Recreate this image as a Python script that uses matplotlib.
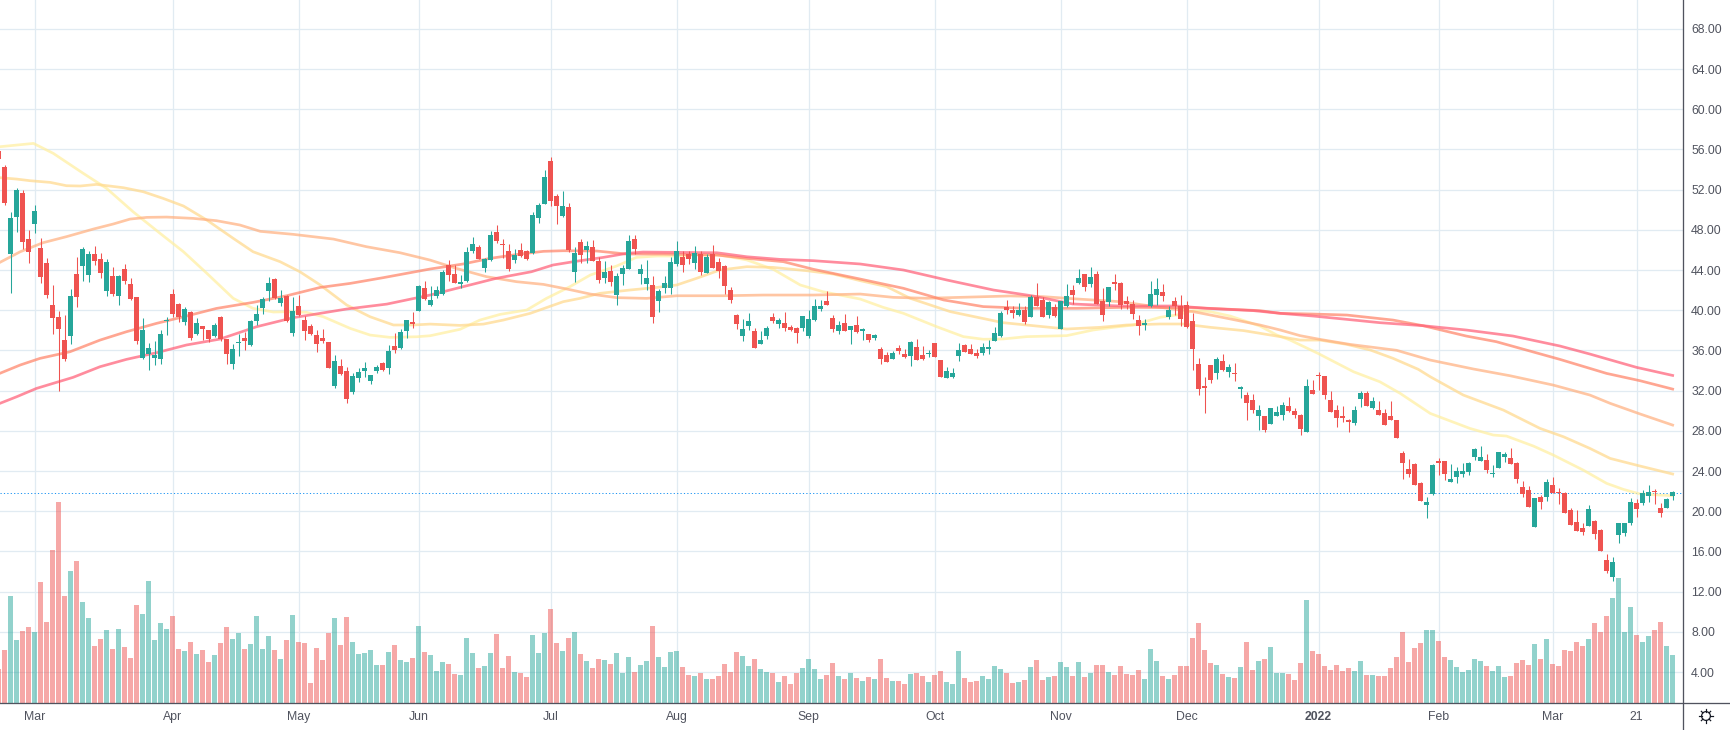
import matplotlib
matplotlib.use("Agg")
import matplotlib.pyplot as plt
from matplotlib.lines import Line2D
from matplotlib.patches import Circle
import numpy as np

plt.rcParams['font.family'] = ['Liberation Sans', 'DejaVu Sans']

# ---- candles (bar numbers run from -1; the first is cut by the left edge) ----
highs = [
56.11,54.45,49.74,52.16,51.93,47.98,50.47,47.18,45.19,42.51,
39.92,39.52,42.11,45.29,46.29,45.89,46.39,45.69,45.09,44.30,
43.50,44.60,43.20,41.31,39.22,36.73,36.93,38.03,39.32,42.11,
40.71,40.32,39.92,39.22,38.43,38.03,38.72,39.42,37.13,36.63,
37.63,37.83,39.02,40.52,41.31,43.30,43.20,42.01,41.51,41.31,
41.51,39.42,38.62,38.03,38.13,36.83,35.54,35.14,34.35,33.75,
34.25,34.84,33.55,34.55,34.84,36.53,37.73,38.13,39.02,39.82,
42.51,42.90,42.41,42.41,44.00,45.00,44.50,43.50,46.29,47.28,
46.49,45.19,47.88,48.48,47.08,46.59,46.09,46.69,45.99,49.77,
50.67,53.95,55.24,51.56,51.86,50.67,46.29,47.08,46.88,46.98,
45.29,44.89,44.50,43.70,44.50,47.48,47.48,44.60,45.00,43.40,
42.11,43.40,45.29,46.88,45.89,45.89,46.39,45.89,45.59,46.49,
45.19,44.50,42.31,39.62,39.12,39.72,38.23,37.93,38.43,39.72,
39.22,39.82,38.53,38.33,39.42,40.02,41.11,41.01,41.91,39.52,
38.92,39.62,38.43,39.42,38.23,37.64,37.64,36.34,35.84,35.94,
36.54,36.14,36.94,37.14,36.44,36.04,36.74,35.05,34.35,34.25,
36.74,36.64,36.64,36.14,36.74,37.04,38.33,39.93,41.02,40.42,
40.72,40.42,41.52,42.71,41.32,40.92,40.62,40.92,42.61,42.51,
44.10,43.61,44.30,43.91,42.21,42.31,43.61,42.81,41.42,41.02,
39.53,39.13,42.91,43.21,42.61,40.42,41.32,41.52,40.92,39.73,
35.25,33.36,34.55,35.35,35.65,34.65,34.75,32.46,31.86,31.67,
30.57,29.48,30.27,30.47,30.87,31.37,30.26,29.67,33.15,33.05,
33.85,33.45,31.96,30.56,30.46,29.17,30.46,31.96,31.96,31.36,
30.96,30.16,30.96,29.07,25.98,25.19,24.79,22.90,21.41,24.69,
25.29,24.99,24.69,24.39,24.79,24.89,26.28,26.48,25.69,24.59,
25.89,25.89,26.28,24.89,23.00,22.50,21.31,21.61,23.20,23.40,
22.30,21.90,20.31,20.11,18.82,20.61,19.12,18.22,15.74,15.44,
18.82,18.82,21.31,21.21,22.10,22.60,22.20,20.81,21.31,22.00]

lows = [
54.78,50.47,41.74,47.78,46.09,44.70,47.68,42.70,41.21,37.63,
31.96,34.94,36.63,40.32,42.90,42.80,44.50,43.20,41.41,41.41,
40.52,42.61,41.01,36.63,35.14,34.05,34.55,34.64,37.53,39.32,
38.82,38.53,37.03,37.53,37.03,36.83,37.33,36.93,34.64,34.15,
35.44,36.04,36.44,38.53,39.62,40.91,41.11,40.42,38.82,37.43,
39.42,37.03,37.53,35.84,36.73,34.25,32.26,33.55,30.76,31.66,
32.85,33.35,32.65,33.75,33.95,33.65,35.74,36.14,37.23,38.23,
39.92,41.01,40.42,41.21,41.51,42.90,42.70,42.21,42.80,45.69,
45.09,43.80,44.89,46.69,45.19,43.90,44.70,45.29,45.00,45.59,
48.68,50.57,50.37,48.58,49.27,45.79,42.80,44.70,44.70,44.89,
42.70,42.70,42.41,40.52,42.51,44.10,45.59,42.61,42.01,38.72,
39.82,41.71,41.61,44.40,43.80,44.60,44.10,43.50,43.70,44.20,
43.20,41.61,40.71,38.13,36.93,38.03,36.24,36.63,37.13,38.72,
38.23,37.93,37.93,36.73,37.93,37.23,38.92,39.92,40.52,37.83,
37.63,37.93,36.63,37.73,37.04,36.84,37.04,34.65,34.85,35.15,
35.65,35.25,34.45,35.05,35.05,35.35,35.35,33.36,33.26,33.26,
34.95,35.85,35.65,35.25,35.55,35.65,36.94,37.34,39.63,39.23,
39.43,38.63,39.33,40.42,39.33,39.23,39.33,38.13,40.32,40.62,
42.61,41.91,42.31,40.62,38.93,40.42,42.01,40.12,40.12,39.13,
37.54,38.03,40.32,40.52,40.92,39.13,39.53,38.43,38.23,34.05,
31.57,29.77,32.76,33.16,33.95,33.36,32.96,31.27,29.08,29.77,
28.08,27.88,28.68,29.48,29.08,29.87,29.27,27.58,27.88,31.66,
32.05,31.16,29.87,28.37,28.87,27.88,28.57,30.36,30.46,30.16,
29.57,28.57,29.07,27.28,23.20,23.40,22.60,21.01,19.32,21.61,
23.60,23.10,22.90,22.80,23.40,23.60,25.09,24.99,23.80,23.40,
24.29,24.89,24.69,22.80,21.41,20.41,18.42,20.21,21.01,21.81,
20.71,19.81,18.62,18.02,17.63,18.52,17.23,16.03,13.84,13.05,
16.83,17.53,18.62,19.42,20.61,20.91,20.71,19.42,20.31,21.11]

opens = [
55.84,54.25,45.59,49.27,51.66,47.08,48.58,46.19,44.70,40.52,
39.32,37.03,37.43,43.60,44.40,43.50,45.59,45.09,41.91,43.40,
41.41,44.10,42.61,41.31,35.24,35.64,35.24,35.14,38.92,41.61,
40.61,38.82,39.82,37.63,38.43,38.03,37.43,39.32,37.13,34.64,
36.73,37.23,36.53,38.92,40.22,41.91,43.10,40.71,41.41,37.73,
40.42,39.02,38.43,37.53,37.23,36.83,32.46,34.45,33.95,31.86,
33.25,33.95,32.95,33.95,34.74,34.25,36.44,36.24,37.93,38.82,
39.92,42.21,40.52,41.41,41.61,44.50,43.60,42.61,42.90,45.89,
46.29,44.20,45.00,47.78,46.59,45.89,45.00,45.99,45.89,45.69,
49.17,50.57,54.85,51.36,49.37,50.27,43.80,46.78,45.99,46.29,
44.89,43.20,43.90,41.51,43.60,44.10,47.08,43.60,42.61,42.51,
40.91,42.21,42.21,44.60,45.29,45.59,44.70,45.59,43.70,45.59,
44.79,44.40,42.01,39.52,37.43,38.43,37.93,36.63,37.43,39.32,
38.62,38.72,38.33,38.23,38.23,37.43,39.02,40.12,40.91,39.22,
37.93,38.72,38.03,38.53,37.93,37.64,37.24,36.14,35.55,35.15,
36.24,35.65,35.45,36.34,35.55,35.65,36.74,35.05,33.26,33.36,
35.45,36.54,36.14,35.75,35.75,36.14,36.94,37.44,40.32,40.02,
39.53,40.02,39.33,41.32,41.02,39.53,40.32,38.13,40.42,42.01,
42.71,43.61,42.61,43.61,40.92,40.82,42.81,42.71,40.92,40.62,
39.03,38.53,40.42,41.52,41.82,39.33,40.92,40.42,40.52,38.93,
34.65,32.46,34.55,33.76,34.95,33.85,33.76,32.16,31.57,31.07,
29.48,29.48,28.68,29.48,29.58,30.47,29.96,29.57,27.88,32.05,
33.51,33.45,31.06,30.06,29.47,29.07,28.77,31.16,31.76,30.26,
30.06,29.77,29.47,29.07,25.79,24.19,24.69,22.80,20.61,21.71,
24.99,24.99,22.90,23.40,23.70,23.90,25.39,24.99,25.09,23.70,
24.29,25.39,25.29,24.79,22.40,22.10,18.42,21.41,21.41,22.60,
21.90,21.81,20.11,18.92,18.32,18.52,19.02,18.12,15.14,13.45,
17.63,17.83,18.82,20.81,20.81,21.51,22.00,20.31,20.31,21.51]

closes = [
55.04,50.67,49.17,51.96,46.78,45.79,49.87,43.30,41.51,39.22,
38.13,35.14,41.41,41.31,46.09,45.59,44.89,43.70,44.79,41.61,
43.40,42.90,41.11,36.93,38.03,36.24,35.54,37.63,39.02,39.62,
39.32,40.12,37.23,38.72,38.13,37.13,38.53,37.13,35.64,36.14,
36.83,36.93,38.92,39.62,41.11,42.70,41.21,41.21,38.92,39.92,
39.52,37.93,37.63,36.63,36.93,34.25,34.94,33.65,31.16,33.45,
33.85,34.25,33.55,34.35,34.05,35.94,36.04,37.83,39.02,38.62,
42.41,41.11,41.01,42.01,43.80,43.50,42.70,42.80,45.79,46.59,
45.09,45.09,47.48,46.88,46.49,44.10,45.49,45.39,45.09,49.47,
50.47,53.25,50.87,50.37,50.37,45.99,45.69,45.49,46.39,44.89,
43.00,43.80,42.80,43.40,44.20,46.88,46.09,44.10,43.20,39.32,
41.91,42.70,44.79,45.89,44.50,45.09,45.69,43.80,45.29,44.20,
43.90,42.41,41.01,38.62,38.13,38.92,36.24,37.03,38.23,38.92,
39.02,38.23,38.03,37.73,39.42,39.12,40.42,40.42,40.52,38.13,
38.53,37.93,38.43,37.83,38.13,37.04,37.54,35.15,34.85,35.75,
35.94,35.35,36.84,35.05,35.15,35.75,35.35,33.36,33.95,33.76,
36.04,35.85,35.65,35.45,36.34,36.34,37.74,39.73,40.02,39.73,
40.02,38.83,41.32,40.42,39.33,40.82,39.43,40.92,41.42,41.52,
43.21,42.31,43.31,40.62,39.53,42.31,42.61,40.52,40.62,39.63,
38.43,38.73,41.62,42.11,41.42,40.02,40.42,39.13,38.33,36.14,
32.16,32.26,33.06,35.15,34.05,34.35,33.66,32.36,30.77,30.07,
30.07,28.08,30.27,29.87,30.57,29.97,29.57,28.17,32.45,31.66,
33.45,31.56,29.87,29.27,29.27,28.87,30.06,31.76,30.46,30.96,
29.57,28.57,29.07,27.28,24.79,23.70,22.60,21.01,20.91,24.59,
24.79,23.70,23.20,23.99,23.99,24.79,26.18,25.39,24.09,23.80,
25.89,25.69,24.69,23.20,21.71,20.41,21.31,20.91,22.90,21.81,
21.81,19.81,18.62,18.02,17.92,20.21,17.73,16.03,14.04,14.94,
18.82,18.82,20.91,20.21,21.81,21.90,21.90,19.81,21.21,21.90]

volumes = [
100,157,319,187,214,226,211,361,241,457,
601,319,394,424,301,253,169,190,217,160,
220,166,133,292,265,364,187,238,220,259,
160,154,181,145,157,121,142,178,226,190,
208,160,175,259,160,199,157,130,187,262,
181,178,58,163,127,208,253,172,256,181,
145,148,157,112,112,151,172,127,121,133,
229,151,142,94,121,115,85,82,193,148,
103,109,148,205,103,139,91,88,76,202,
148,208,280,178,154,193,211,145,124,103,
130,127,115,148,88,136,91,112,124,229,
136,106,151,154,106,82,79,88,70,70,
79,115,91,151,139,109,130,100,91,88,
61,79,55,88,103,130,100,70,82,118,
79,70,88,73,64,76,70,130,73,64,
64,55,85,88,79,61,82,94,61,55,
154,73,61,64,79,70,109,100,88,58,
61,67,106,127,67,76,79,121,106,79,
121,76,88,112,112,91,82,109,85,82,
97,70,160,124,79,70,82,109,109,193,
238,157,118,112,85,76,73,106,181,97,
124,130,166,88,88,85,67,118,307,154,
145,109,97,112,94,103,94,124,82,82,
79,79,103,136,211,121,163,178,217,217,
184,136,127,106,91,97,130,124,109,94,
109,76,79,118,127,112,175,130,190,115,
109,157,154,181,169,190,238,211,259,313,
373,211,286,202,181,199,217,241,169,142]

last_price = 21.78

# ---- moving averages: (bar number, price) ----
ma1_bar = [-0.8,4.8,8.1,13.1,17,21.4,25.9,29.8,33.7,38.1,41.4,44.8,47,50.3,53.1,57.6,60.9,64.2,68.7,
           70.9,75.9,79.2,82.6,87,90.3,94.2,97.6,102,105.3,108.7,112,115.3,119.2,123.7,128.1,132.6,136.4,142.6,
           146.4,149.8,155.3,159.8,163.1,166.4,170.3,177,181.4,184.8,188.1,192.6,195.4,198.1,200.9,204.2,209.2,212,214.2,
           218.9,224.8,229.2,232.6,237.6,244.2,248.1,250.3,254.8,258.1,263.1,267,269.8,272.6,278]
ma1_val = [56.27,56.6,55.61,53.62,52.12,49.8,47.65,45.82,43.67,41.18,40.18,39.82,39.85,39.79,39.35,38.19,37.53,37.3,37.36,
           37.46,38.1,39.02,39.59,40.02,41.18,42.34,43.5,44.4,45.26,45.39,45.39,45.49,45.49,45,44.07,42.51,41.84,41.11,
           40.29,39.69,38.37,37.37,37.11,37.14,37.37,37.47,38.03,38.3,38.53,39.3,39.53,39.96,39.86,39.43,38.43,37.54,37.04,
           35.70,33.88,32.88,31.72,29.73,28.24,27.58,27.48,26.48,25.59,24.09,22.77,22.17,21.71,21.54]

ma2_bar = [-0.8,2,4.2,7.6,10.3,12.6,15.3,19.8,23.1,26.4,29.8,33.7,38.1,41.4,45.9,49.2,52.6,57,60.9,64.8,68.1,
           70.9,75.9,79.8,83.1,87.6,93.1,95.9,99.2,104.2,108.7,112,115.3,119.2,123.7,128.1,133.7,138.1,142.6,
           147,150.9,157.6,166.4,177,182.6,187,192.6,196.4,200.9,206.5,212.6,
           215.9,219.2,223.7,227.6,231.4,235.6,237.6,243.1,249.8,255.9,259.8,264.2,267.6,272.6,278]
ma2_val = [53.19,53.05,52.89,52.72,52.39,52.36,52.52,52.19,51.79,51.13,50.37,48.97,47.15,45.82,44.83,43.83,42.51,40.52,39.35,38.53,38.53,
           38.62,38.49,38.62,39.02,39.69,40.85,41.18,41.68,42.01,42.27,42.51,43.17,44,44.33,44.26,43.93,43.6,42.94,
           42.35,41.19,39.86,38.76,38.13,38.3,38.53,38.63,38.63,38.3,37.97,37.37,
           37.03,37.03,36.6,36.04,35.21,34.12,33.38,31.56,30.06,28.24,27.41,26.25,25.25,24.49,23.7]

ma3_bar = [-0.8,2.6,6.4,10.3,14.8,18.1,20.9,23.7,27,31.4,35.3,39.2,42.6,48.1,54.8,60.3,65.9,
           70.9,75.3,80.3,85.3,89.8,93.7,97.6,102,107,112,119.8,126.4,134.8,142.6,
           148.1,153.7,159.2,167.6,173.1,178.7,185.9,192.6,198.1,203.7,209.2,212.6,
           215.9,219.2,224.2,232,237.6,244.8,250.9,258.1,264.2,267.6,272.6,278]
ma3_val = [44.76,45.82,46.72,47.32,48.08,48.58,49.07,49.24,49.27,49.14,48.91,48.48,47.85,47.55,47.08,46.32,45.72,
           44.99,44.16,43.34,42.84,42.57,42.11,41.61,41.25,41.18,41.44,41.44,41.51,41.51,41.61,
           41.28,41.19,41.28,41.42,41.35,41.12,40.85,40.29,39.86,39.2,38.53,38.03,
           37.47,37.1,36.6,36.01,35.04,34.15,33.48,32.55,31.56,30.73,29.67,28.57]

ma4_bar = [-0.8,2.6,5.9,10.9,15.9,20.3,25.3,30.3,35.3,41.4,47,52.6,57.6,63.1,
           70.9,76.4,80.9,85.9,89.8,93.1,98.7,103.7,109.8,118.7,123.7,129.8,134.8,142.6,
           149.8,156.5,163.1,170.3,178.7,187,192.6,198.1,209.2,212.6,
           218.1,223.7,231.4,236.4,243.6,248.6,254.2,259.2,267,272.6,278]
ma4_val = [33.72,34.55,35.21,35.87,37.03,37.86,38.69,39.42,40.18,40.78,41.44,42.27,42.67,43.24,
           44.1,44.6,45.16,45.59,45.86,45.92,45.89,45.59,45.59,45.49,45.16,44.83,44.07,43.1,
           42.18,41.02,40.36,40.19,40.19,40.29,40.26,40.26,39.96,39.69,
           39.62,39.52,39.02,38.46,37.43,36.87,35.94,35.11,33.71,32.98,32.15]

ma5_bar = [-0.8,2,5.3,11.4,15.9,20.3,25.3,30.3,35.9,42,48.1,52.6,57,63.7,
           70.9,76.4,81.9,87.8,91.4,94.8,99.8,103.7,106.4,118.7,123.7,129.2,134.8,142.6,
           149.8,157,164.8,171.4,178,185.9,195.4,200.3,208.1,212.6,
           218.1,223.7,229.2,236.4,243.6,251.4,259.2,264.2,272,278]
ma5_val = [30.73,31.39,32.22,33.32,34.38,35.11,35.77,36.54,37.13,38.36,39.26,39.69,40.12,40.61,
           41.51,42.34,43.17,43.83,44.5,44.83,45.26,45.66,45.79,45.72,45.32,45.06,44.93,44.6,
           44.0,43.01,42.01,41.42,40.62,40.42,40.42,40.19,39.96,39.69,
           39.42,39.09,38.76,38.46,38.03,37.43,36.44,35.64,34.31,33.51]

# ---- axis labels ----
price_ticks = list(range(4, 72, 4))
month_bars = [5, 28, 49, 69, 91, 112, 134, 155, 176, 197, 219, 239, 258, 272]
month_labels = ['Mar', 'Apr', 'May', 'Jun', 'Jul', 'Aug', 'Sep', 'Oct', 'Nov', 'Dec', '2022', 'Feb', 'Mar', '21']

# ---- styles ----
UP, DOWN = '#26A69A', '#EF5350'
GRID = '#E1EBF2'
AXIS = '#50535E'
TEXT = '#50535E'
MA_COLORS = ['#FFEFA0', '#FFD98C', '#FFB080', '#FF8468', '#FF6078']

W, H = 1730, 730
PLOT_R, PLOT_B = 1682.5, 702.5
fig = plt.figure(figsize=(W / 100, H / 100), dpi=100, facecolor='white')
rect = [0, (H - PLOT_B) / H, PLOT_R / W, PLOT_B / H]
px = 0.72

ax = fig.add_axes(rect)
vax = fig.add_axes(rect, sharex=ax)
cax = fig.add_axes(rect, sharex=ax)

bars = np.arange(-1, len(highs) - 1)
o, h, l, c = map(np.array, (opens, highs, lows, closes))
rising = c >= o
colors = np.where(rising, UP, DOWN)

xlim = (-0.778, 279.64)
ylim = (0.965, 70.87)
ax.set_xlim(*xlim)
ax.set_ylim(*ylim)

# grid + axis labels
ax.set_yticks(price_ticks, [f'{t:.2f}' for t in price_ticks])
ax.set_xticks(month_bars, month_labels)
ax.yaxis.tick_right()
ax.grid(True, color=GRID, lw=px * 1.3)
ax.set_axisbelow(True)
for s in ax.spines.values():
    s.set_visible(False)
ax.tick_params(axis='y', length=0, pad=6.2, labelsize=8.8, labelcolor=TEXT)
ax.tick_params(axis='x', length=0, pad=6.2, labelsize=8.8, labelcolor=TEXT)
for lab in ax.get_xticklabels():
    if lab.get_text() == '2022':
        lab.set_fontweight('bold')

# volume
vax.set_ylim(0, PLOT_B * 3)
vax.bar(bars, volumes, width=0.8, color=colors, alpha=0.5, linewidth=0)
vax.axis('off')
vax.patch.set_visible(False)

# candles and averages
cax.set_ylim(*ylim)
cax.axis('off')
cax.patch.set_visible(False)
cax.axhline(last_price, color='#2196F3', lw=px, dashes=(1.2, 2.2))
for xs, ys, col in zip((ma1_bar, ma2_bar, ma3_bar, ma4_bar, ma5_bar),
                       (ma1_val, ma2_val, ma3_val, ma4_val, ma5_val), MA_COLORS):
    cax.plot(xs, ys, color=col, lw=2.7 * px, alpha=0.72, solid_joinstyle='round', zorder=2)
cax.vlines(bars, l, h, colors=colors, lw=px * 1.05, zorder=3)
cax.bar(bars, np.abs(c - o), bottom=np.minimum(o, c), width=0.82, color=colors, linewidth=0, zorder=3)

# axis rules that run to the picture's edges
fig.add_artist(Line2D([PLOT_R / W] * 2, [0, 1], color=AXIS, lw=px * 1.3))
fig.add_artist(Line2D([0, 1], [(H - PLOT_B) / H] * 2, color=AXIS, lw=px * 1.3))

# settings glyph
r = 4.4
fig.add_artist(Circle((1706, H - 716), r, transform=None, fill=False, ec='#131722', lw=px * 1.2))
for a in np.arange(0, 360, 45):
    dx, dy = np.cos(np.radians(a)), np.sin(np.radians(a))
    fig.add_artist(Line2D([1706 + dx * r, 1706 + dx * (r + 2.2)], [H - 716 + dy * r, H - 716 + dy * (r + 2.2)],
                          transform=None, color='#131722', lw=px * 1.2))

fig.savefig('out.png', dpi=100, facecolor='white')
